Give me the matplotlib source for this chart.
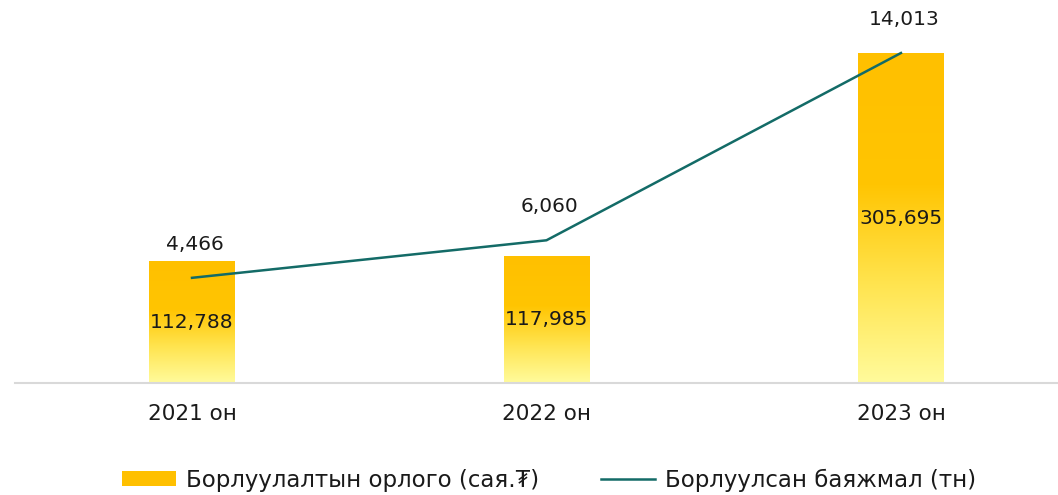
import numpy as np
import matplotlib.pyplot as plt
from matplotlib.colors import LinearSegmentedColormap
from matplotlib.patches import Patch
from matplotlib.lines import Line2D

plt.rcParams['font.family'] = ['DejaVu Sans']

years = ['2021 он', '2022 он', '2023 он']
revenue = [112788, 117985, 305695]      # сая.₮
volume = [4466, 6060, 14013]            # тн
bar_name = 'Борлуулалтын орлого (сая.₮)'
line_name = 'Борлуулсан баяжмал (тн)'

gold = '#FFC000'
teal = '#136B67'
grad = LinearSegmentedColormap.from_list(
    'g', [(0, '#FFFB9C'), (0.3, '#FFE44F'), (0.6, '#FFC502'), (1, gold)])

fig = plt.figure(figsize=(10.58, 4.95), dpi=100)
ax = fig.add_axes([15 / 1058, 112 / 495, 1 - 15 / 1058, 1 - 112 / 495 - 10 / 495])
ax2 = ax.twinx()

x = np.arange(len(years))
bars = ax.bar(x, revenue, width=0.24, facecolor='none', edgecolor='none')
g = np.linspace(0, 1, 256).reshape(-1, 1)
for b in bars:
    x0, y0, w, h = b.get_x(), b.get_y(), b.get_width(), b.get_height()
    im = ax.imshow(g, cmap=grad, origin='lower', aspect='auto',
                   extent=[x0, x0 + w, y0, y0 + h], zorder=1)
    im.set_clip_path(b)

for xi, v in zip(x, revenue):
    ax.text(xi, v / 2, f'{v:,}', ha='center', va='center', fontsize=14.5, color='#1a1a1a', zorder=3)

ax2.plot(x, volume, color=teal, lw=1.8, zorder=4)
for xi, v in zip(x, volume):
    ax2.annotate(f'{v:,}', (xi, v), xytext=(2, 24), textcoords='offset points',
                 ha='center', va='center', fontsize=14.5, color='#1a1a1a')

scale = 373 / 330
ax.set_ylim(0, max(revenue) * scale)
ax2.set_ylim(0, max(volume) * scale)
ax.set_xlim(-0.4993, 2.443)

for a in (ax, ax2):
    for s in ('top', 'right', 'left'):
        a.spines[s].set_visible(False)
    a.set_yticks([])
ax2.spines['bottom'].set_visible(False)
ax.spines['bottom'].set_color('#D9D9D9')
ax.spines['bottom'].set_linewidth(1.5)
ax.set_xticks(x)
ax.set_xticklabels(years, fontsize=15.5, color='#1a1a1a')
ax.tick_params(axis='x', length=0, pad=15)

handles = [Patch(facecolor=gold, edgecolor='none'), Line2D([], [], color=teal, lw=1.8)]
fig.legend(handles, [bar_name, line_name], loc='center', bbox_to_anchor=(0.519, 0.03),
           ncol=2, frameon=False, fontsize=16.5, handlelength=2.36, handleheight=0.6,
           columnspacing=2.7, handletextpad=0.45, labelcolor='#1a1a1a')

fig.savefig('out.png', dpi=100)
